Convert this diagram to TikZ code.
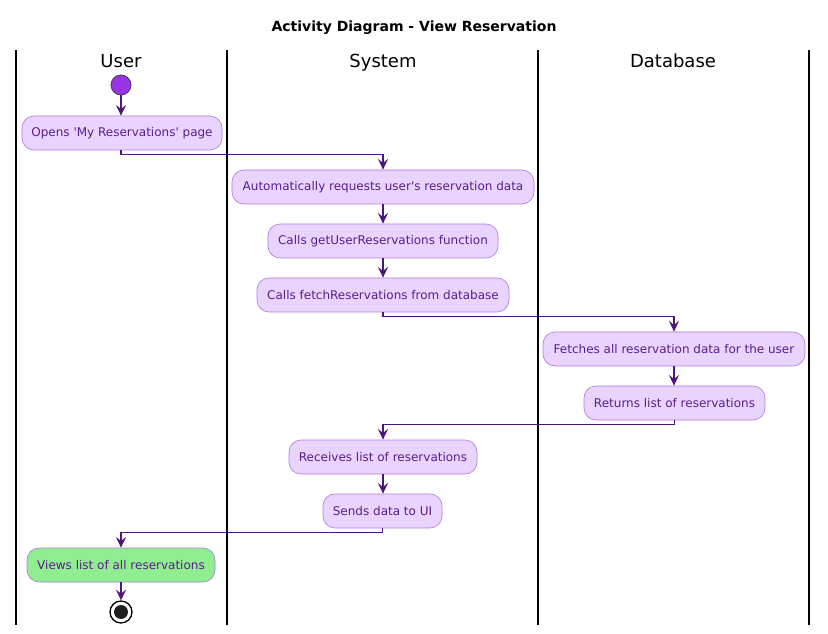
\documentclass[tikz,border=0pt]{standalone}
\usepackage{fontspec}
\setmainfont{DejaVu Sans}
\usetikzlibrary{arrows.meta}
\definecolor{nodefill}{HTML}{E8D4FF}
\definecolor{nodeline}{HTML}{B07CE0}
\definecolor{nodetext}{HTML}{5A1E8C}
\definecolor{arrowc}{HTML}{4E1580}
\definecolor{startfill}{HTML}{9933E8}
\definecolor{greenfill}{HTML}{90EE90}
\begin{document}
\begin{tikzpicture}[x=0.75pt,y=-0.75pt,
  act/.style={draw=nodeline, fill=nodefill, rounded corners=9pt, text=nodetext,
    font=\fontsize{9}{11}\selectfont, minimum height=25.5pt, inner sep=0pt, line width=0.5pt},
  flow/.style={draw=arrowc, line width=0.9pt, -{Stealth[length=8pt,width=7.5pt,inset=3pt]}},
  lane/.style={line width=1.1pt, draw=black},
  lanehead/.style={font=\fontsize{13.5}{16}\selectfont, text=black, text height=10pt, text depth=3pt, inner sep=0pt},
  titlestyle/.style={font=\bfseries\fontsize{10.5}{13}\selectfont}]
\useasboundingbox (0,0) rectangle (828,634);
\fill[white] (0,0) rectangle (828,634);

\node[titlestyle] (title) at (414,28) {Activity Diagram - View Reservation};

\draw[lane] (16,50) -- (16,625);
\draw[lane] (227,50) -- (227,625);
\draw[lane] (538,50) -- (538,625);
\draw[lane] (809,50) -- (809,625);

\node[lanehead] (hu) at (121,62.5) {User};
\node[lanehead] (hs) at (383,62.5) {System};
\node[lanehead] (hd) at (673,62.5) {Database};

\node[circle, fill=startfill, draw=black!75, line width=0.6pt, minimum size=15pt, inner sep=0pt] (start) at (121,85) {};

\node[act, minimum width=150pt] (n1) at (122,133) {Opens \textquotesingle My Reservations\textquotesingle{} page};
\node[act, minimum width=226.5pt] (n2) at (383,187) {Automatically requests user\textquotesingle s reservation data};
\node[act, minimum width=172.5pt] (n3) at (383,241) {Calls getUserReservations function};
\node[act, minimum width=189pt] (n4) at (383,295) {Calls fetchReservations from database};
\node[act, minimum width=196.5pt] (n5) at (674,349) {Fetches all reservation data for the user};
\node[act, minimum width=135.75pt] (n6) at (674.5,403) {Returns list of reservations};
\node[act, minimum width=141pt] (n7) at (383,457) {Receives list of reservations};
\node[act, minimum width=89.25pt] (n8) at (382.5,511) {Sends data to UI};
\node[act, fill=greenfill, minimum width=141pt] (n9) at (121,565) {Views list of all reservations};

\node[circle, draw=black, fill=white, line width=1pt, minimum size=16.5pt, inner sep=0pt] (stop) at (121,612) {};
\fill[black!88] (stop.center) circle (5.25pt);

\draw[flow] (start.south) -- (n1.north -| start.south);
\draw[flow] (n1.south -| start.south) -- ++(0,4) -| (n2.north);
\draw[flow] (n2.south) -- (n3.north);
\draw[flow] (n3.south) -- (n4.north);
\draw[flow] (n4.south) -- ++(0,4) -| (n5.north);
\draw[flow] (n5.south) -- (n6.north -| n5.south);
\draw[flow] (n6.south) -- ++(0,4) -| (n7.north);
\draw[flow] (n7.south) -- (n8.north -| n7.south);
\draw[flow] (n8.south) -- ++(0,4) -| (n9.north);
\draw[flow] (n9.south) -- (stop.north);
\end{tikzpicture}
\end{document}
